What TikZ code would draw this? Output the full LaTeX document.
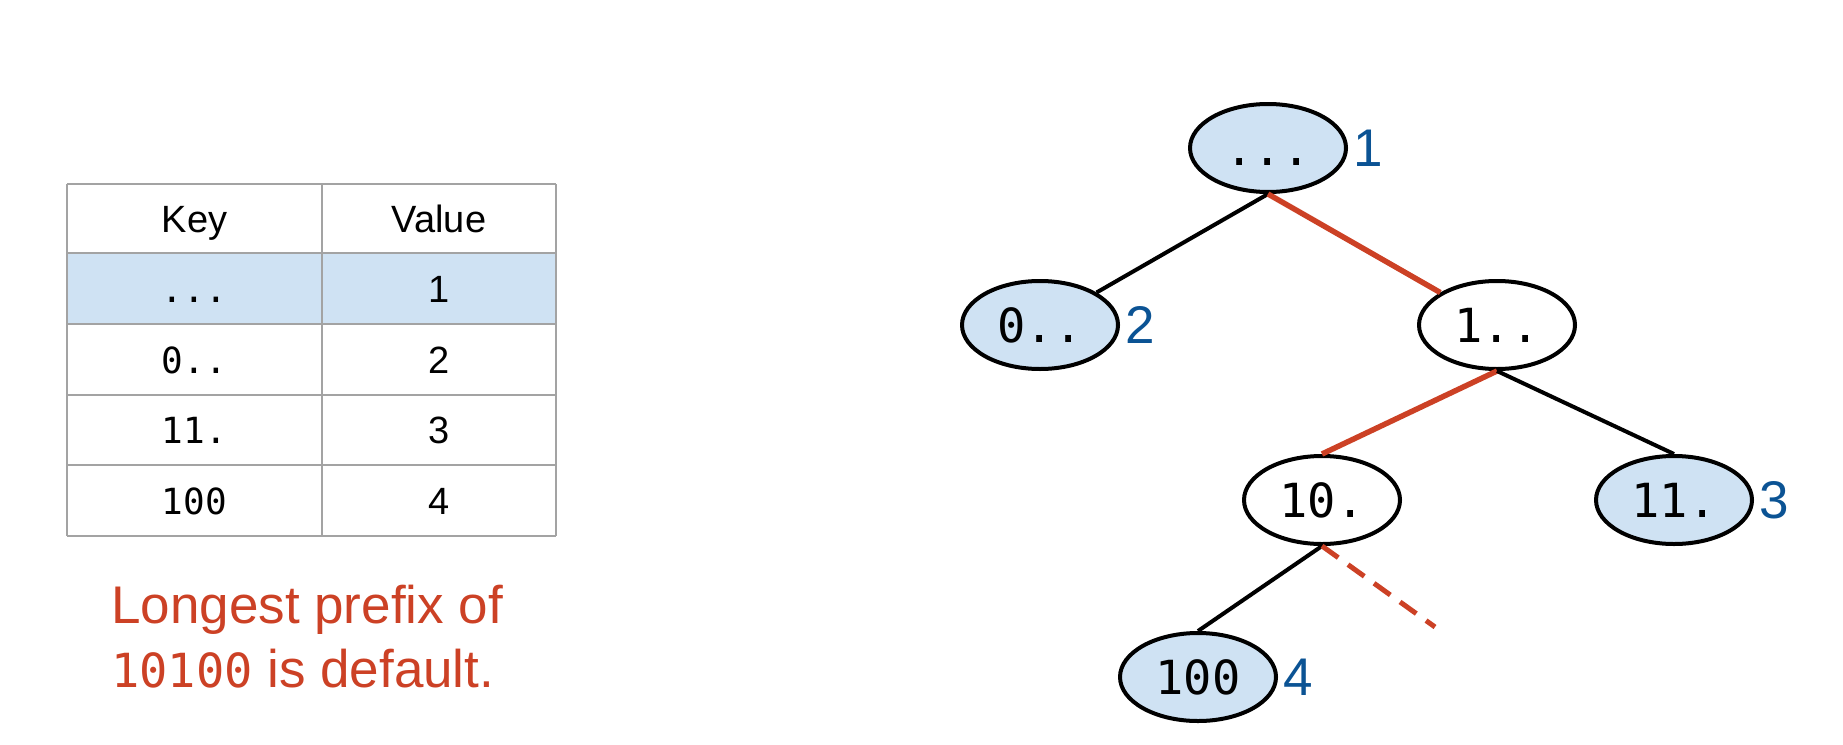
\documentclass[tikz,border=0pt]{standalone}
\usepackage{fontspec}
\setmainfont{Liberation Sans}
\newfontfamily\codefont{DejaVu Sans Mono}
\usetikzlibrary{shapes.geometric}
\definecolor{treeblue}{HTML}{CFE2F3}
\definecolor{numblue}{HTML}{0B5394}
\definecolor{pathred}{HTML}{CC4125}
\definecolor{gridgray}{HTML}{A3A3A3}

\begin{document}
\begin{tikzpicture}[x=1pt,y=-1pt,
  trie/.style={ellipse, draw=black, line width=4pt, minimum width=156pt,
    minimum height=88pt, inner sep=0pt, text height=34pt, text depth=0pt,
    font=\codefont\fontsize{47}{47}\selectfont},
  full/.style={trie, fill=treeblue},
  empty/.style={trie, fill=white},
  val/.style={label={[font=\fontsize{53}{53}\selectfont, text=numblue,
    inner sep=0pt, label distance=5pt]right:#1}},
  edge/.style={line width=4pt, draw=black},
  hot/.style={line width=5.5pt, draw=pathred},
  cell/.style={inner sep=0pt, text height=27pt, text depth=0pt,
    font=\fontsize{38}{38}\selectfont},
  keycell/.style={cell, font=\codefont\fontsize{36}{36}\selectfont},
  rule/.style={draw=gridgray, line width=2pt},
  note/.style={anchor=base west, inner sep=0pt, text=pathred,
    font=\fontsize{53}{64}\selectfont}
]
\useasboundingbox (0,0) rectangle (1843,744);

% ---- key/value table ----
\fill[treeblue] (67,253) rectangle (556,324);
\foreach \yy in {184,253,324,395,465,536}
  \draw[rule] (67,\yy) -- (556,\yy);
\foreach \xx in {67,322,556}
  \draw[rule] (\xx,184) -- (\xx,536);

\node[cell] (hk) at (194.5,218.5) {Key};
\node[cell] (hv) at (439,218.5) {Value};
\node[keycell] (k1) at (194.5,288.5) {...};
\node[cell]    (v1) at (439,288.5) {1};
\node[keycell] (k2) at (194.5,359.5) {0..};
\node[cell]    (v2) at (439,359.5) {2};
\node[keycell] (k3) at (194.5,430) {11.};
\node[cell]    (v3) at (439,430) {3};
\node[keycell] (k4) at (194.5,500.5) {100};
\node[cell]    (v4) at (439,500.5) {4};

% ---- caption ----
\node[note] (note1) at (111,623) {Longest prefix of};
\node[note] (note2) at (111,687)
  {{\codefont\fontsize{47}{47}\selectfont 10100} is default.};

% ---- trie ----
\node[full,  val=1] (root) at (1268,148) {...};
\node[full,  val=2] (n0)   at (1040,325) {0..};
\node[empty]        (n1)   at (1497,325) {1..};
\node[empty]        (n10)  at (1322,500) {10.};
\node[full,  val=3] (n11)  at (1674,500) {11.};
\node[full,  val=4] (n100) at (1198,677) {100};
\coordinate (miss) at (1435,627);

\draw[edge] (root.south) -- (n0);
\draw[hot]  (root.south) -- (n1);
\draw[hot]  (n1.south) -- (n10.north);
\draw[edge] (n1.south) -- (n11.north);
\draw[edge] (n10.south) -- (n100.north);
\draw[hot, line width=5pt, dash pattern=on 20pt off 12pt] (n10.south) -- (miss);
\end{tikzpicture}
\end{document}
